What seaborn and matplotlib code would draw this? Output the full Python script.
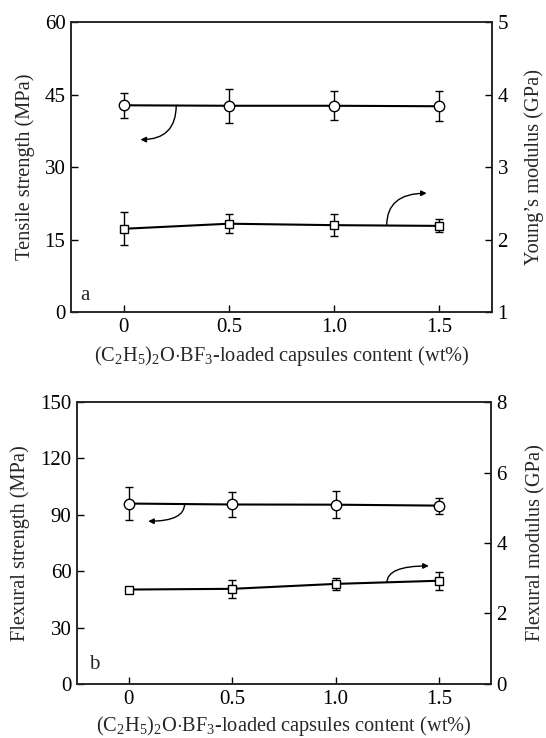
import numpy as np
import pandas as pd
import matplotlib
matplotlib.use("Agg")
import matplotlib.pyplot as plt
import seaborn as sns
from matplotlib.patches import FancyArrowPatch

# ---- data ----
content = [0, 0.5, 1.0, 1.5]
tensile_strength = [42.8, 42.7, 42.7, 42.6]
tensile_strength_err = [2.6, 3.5, 3.0, 3.1]
youngs_modulus = [2.15, 2.22, 2.20, 2.19]
youngs_modulus_err = [0.23, 0.13, 0.15, 0.09]

flexural_strength = [96.0, 95.5, 95.4, 94.9]
flexural_strength_err = [8.8, 6.7, 7.3, 4.2]
flexural_modulus = [2.68, 2.70, 2.84, 2.93]
flexural_modulus_err = [0.05, 0.25, 0.17, 0.25]

x_ticklabels = ["0", "0.5", "1.0", "1.5"]
top_left_ticks = [0, 15, 30, 45, 60]
top_right_ticks = [1, 2, 3, 4, 5]
bot_left_ticks = [0, 30, 60, 90, 120, 150]
bot_right_ticks = [0, 2, 4, 6, 8]

sns.set_style("ticks")
plt.rcParams['font.family'] = ['Liberation Serif', 'DejaVu Serif']
plt.rcParams['mathtext.fontset'] = 'custom'
plt.rcParams['mathtext.rm'] = 'Liberation Serif'
plt.rcParams['mathtext.it'] = 'Liberation Serif:italic'
plt.rcParams['mathtext.bf'] = 'Liberation Serif:bold'

fig = plt.figure(figsize=(5.46, 7.38), dpi=100)
ax_a = fig.add_axes([0.130, 0.577, 0.771, 0.393])
ax_b = fig.add_axes([0.141, 0.0732, 0.758, 0.382])

xlabel = r'(C$_2$H$_5$)$_2$O$\cdot$BF$_3$-loaded capsules content (wt%)'
FS = 15
LFS = 14.7


def style_axis(ax):
    for s in ax.spines.values():
        s.set_linewidth(1.1)
        s.set_color('#222222')
    ax.tick_params(direction='in', length=5, width=1.0, labelsize=FS,
                   colors='black', pad=4)


def draw_series(ax, x, y, err, marker, ms):
    df = pd.DataFrame({'x': x, 'y': y})
    sns.lineplot(data=df, x='x', y='y', ax=ax, color='black', lw=1.5,
                 marker=marker, markersize=ms, markerfacecolor='white',
                 markeredgecolor='black', markeredgewidth=1.0, zorder=3)
    ax.errorbar(x, y, yerr=err, fmt='none', ecolor='black', elinewidth=1.0,
                capsize=3, capthick=1.0, zorder=2)


def curved_arrow(ax, start, end):
    arr = FancyArrowPatch(start, end, transform=ax.transData,
                          connectionstyle="angle3,angleA=90,angleB=0",
                          arrowstyle="-|>", mutation_scale=8,
                          color='black', lw=1.0, shrinkA=0, shrinkB=0)
    ax.add_patch(arr)


# ---- panel a ----
ax_a2 = ax_a.twinx()
draw_series(ax_a, content, tensile_strength, tensile_strength_err, 'o', 7.5)
draw_series(ax_a2, content, youngs_modulus, youngs_modulus_err, 's', 6)
ax_a.set_xlim(-0.25, 1.75)
ax_a.set_ylim(0, 60)
ax_a2.set_ylim(1, 5)
ax_a.set_xticks(content)
ax_a.set_xticklabels(x_ticklabels)
ax_a.set_yticks(top_left_ticks)
ax_a2.set_yticks(top_right_ticks)
ax_a.set_xlabel(xlabel, fontsize=LFS, labelpad=5)
ax_a.set_ylabel('Tensile strength (MPa)', fontsize=LFS, labelpad=7)
ax_a2.set_ylabel('Young’s modulus (GPa)', fontsize=LFS, labelpad=12)
style_axis(ax_a)
style_axis(ax_a2)
curved_arrow(ax_a, (0.25, 42.8), (0.08, 35.7))
curved_arrow(ax_a2, (1.25, 2.195), (1.44, 2.64))
ax_a.text(0.022, 0.025, 'a', transform=ax_a.transAxes, fontsize=FS,
          ha='left', va='bottom')

# ---- panel b ----
ax_b2 = ax_b.twinx()
draw_series(ax_b, content, flexural_strength, flexural_strength_err, 'o', 7.5)
draw_series(ax_b2, content, flexural_modulus, flexural_modulus_err, 's', 6)
ax_b.set_xlim(-0.25, 1.75)
ax_b.set_ylim(0, 150)
ax_b2.set_ylim(0, 8)
ax_b.set_xticks(content)
ax_b.set_xticklabels(x_ticklabels)
ax_b.set_yticks(bot_left_ticks)
ax_b2.set_yticks(bot_right_ticks)
ax_b.set_xlabel(xlabel, fontsize=LFS, labelpad=4)
ax_b.set_ylabel('Flexural strength (MPa)', fontsize=LFS, labelpad=7)
ax_b2.set_ylabel('Flexural modulus (GPa)', fontsize=LFS, labelpad=14)
style_axis(ax_b)
style_axis(ax_b2)
curved_arrow(ax_b, (0.27, 95.8), (0.094, 86.6))
curved_arrow(ax_b2, (1.248, 2.88), (1.45, 3.35))
ax_b.text(0.03, 0.035, 'b', transform=ax_b.transAxes, fontsize=FS,
          ha='left', va='bottom')

fig.savefig('out.png', dpi=100)
